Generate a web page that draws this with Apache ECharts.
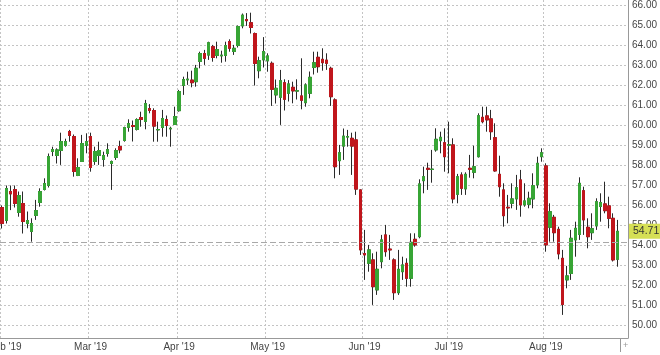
<!DOCTYPE html>
<html><head><meta charset="utf-8">
<script src="https://cdn.jsdelivr.net/npm/echarts@6/dist/echarts.min.js"></script>
<style>html,body{margin:0;padding:0;background:#fff}#c{width:660px;height:355px}</style>
</head><body><div id="c"></div>
<script>
// trading-day candles, Jan 30 2019 .. Aug 2019
const opens = [
55.9,55.25,56.7,56.8,55.65,56.1,55.1,54.7,55.5,56.15,
56.8,57.0,58.7,58.5,58.75,59.0,59.7,59.45,57.5,58.2,
59.0,59.45,58.2,58.5,58.3,58.6,58.1,58.4,58.95,59.25,
59.9,60.0,59.8,60.4,60.2,60.85,60.75,59.78,59.9,60.3,
59.83,60.05,60.74,62.0,62.28,62.27,62.19,63.2,63.6,63.52,
63.94,63.5,63.48,63.5,64.2,63.7,64.0,64.98,65.3,65.14,
64.6,62.74,63.28,63.23,63.11,61.53,61.41,62.14,61.61,61.91,
61.72,61.48,61.14,61.61,62.9,63.41,63.31,63.27,62.86,61.28,
58.24,58.97,59.42,59.36,59.28,56.78,53.6,53.11,53.28,51.78,
53.19,54.53,53.82,53.28,51.64,52.69,53.11,52.36,54.31,54.44,
57.24,57.86,57.8,58.78,59.24,59.14,59.02,59.03,56.56,57.53,
56.83,57.86,57.66,58.44,60.41,60.48,60.33,59.39,57.56,56.78,
55.91,56.11,56.33,57.28,56.03,56.06,56.33,57.03,58.44,57.98,
54.91,55.41,54.81,53.36,52.28,52.6,54.28,54.55,56.74,54.91,
54.64,54.98,55.95,56.08,55.98,55.36,53.31];
const closes = [
55.1,56.85,56.58,56.1,56.5,55.2,55.25,55.1,55.75,56.7,
57.1,58.45,58.8,58.78,59.2,59.2,59.5,57.7,57.9,59.1,
59.2,57.9,58.7,58.75,58.5,58.8,58.2,58.75,58.78,59.9,
60.1,59.95,60.3,60.3,61.1,60.75,59.97,59.8,60.35,60.0,
59.86,60.45,61.7,62.3,62.32,62.14,62.86,63.6,63.36,64.14,
63.4,63.8,63.52,64.0,63.86,63.86,64.95,65.52,65.24,64.9,
63.1,63.24,63.7,63.48,61.81,61.86,62.24,61.31,62.08,61.73,
61.74,61.26,62.03,62.41,63.14,62.94,63.14,63.11,61.44,57.94,
58.64,59.47,59.45,58.97,56.82,53.78,53.53,53.78,51.94,52.81,
54.28,53.69,53.78,51.64,52.81,53.03,52.36,54.16,54.03,57.08,
57.44,57.81,57.82,59.31,59.41,58.44,59.04,56.33,57.44,56.86,
57.56,57.81,57.94,60.49,60.19,60.28,59.69,57.73,56.94,55.49,
55.88,56.33,56.89,56.03,56.23,56.36,56.99,58.11,58.64,54.03,
55.69,54.64,53.58,51.05,52.48,54.36,54.86,57.11,55.28,54.44,
54.84,56.19,56.15,55.74,55.36,53.28,54.71];
const lows = [
54.85,55.1,55.77,55.9,55.44,54.6,54.86,54.19,55.28,55.94,
56.75,56.9,58.47,58.1,58.03,58.94,59.19,57.44,57.47,58.19,
58.61,57.69,58.03,58.03,57.94,58.44,56.78,58.28,58.61,59.19,
59.69,59.2,59.75,59.94,59.81,60.61,59.19,59.19,59.44,59.44,
58.94,60.03,60.69,61.53,62.03,61.91,61.94,62.86,63.03,63.28,
63.19,63.36,63.14,63.19,63.69,63.53,63.9,64.86,64.98,64.6,
62.0,62.36,62.9,62.69,60.98,61.1,60.03,60.75,61.2,61.11,
61.3,60.81,60.94,61.36,62.55,62.64,62.74,62.78,60.98,57.36,
57.53,58.28,58.94,57.53,56.53,53.53,52.28,52.69,51.03,51.53,
52.86,53.44,53.28,51.28,51.53,52.28,51.94,51.94,53.94,54.36,
56.61,56.78,57.14,58.69,58.61,57.69,57.61,56.11,56.11,56.53,
56.53,57.39,57.36,58.4,60.11,59.69,59.28,57.69,56.44,54.94,
55.11,55.86,55.78,55.44,55.94,55.86,55.86,56.86,58.19,53.69,
54.19,54.19,53.31,50.53,51.86,52.28,53.44,54.28,54.53,53.86,
54.28,54.78,55.19,55.61,54.86,53.2,52.94];
const highs = [
56.0,57.0,57.0,57.0,56.7,56.7,55.7,55.36,56.28,56.86,
57.36,58.6,58.94,58.86,59.64,59.34,59.78,59.55,58.36,59.53,
59.61,59.64,58.94,59.19,58.69,59.11,58.25,58.86,59.24,59.94,
60.31,60.25,60.36,60.69,61.28,61.07,60.86,60.19,60.78,60.5,
59.94,60.94,61.78,62.44,62.69,62.74,63.03,63.69,63.78,64.19,
64.03,64.19,63.74,64.19,64.31,64.03,65.0,65.6,65.62,65.64,
64.65,63.44,64.42,63.61,63.2,62.3,62.78,62.31,62.27,62.19,
62.31,63.36,62.11,62.7,63.69,63.69,63.86,63.61,62.94,61.36,
59.03,59.85,59.78,59.64,59.69,56.8,54.78,54.03,53.61,53.69,
54.53,55.03,54.53,53.36,53.78,53.44,53.36,54.61,54.61,57.31,
57.94,58.14,58.78,59.86,59.69,59.86,60.19,59.36,57.58,57.66,
57.66,58.53,58.99,60.61,60.94,60.94,60.78,60.11,58.49,57.11,
56.53,57.11,57.53,57.78,57.11,56.69,57.61,58.44,58.86,58.11,
56.11,55.53,54.94,53.78,52.98,54.78,55.19,57.41,56.94,55.36,
55.61,56.36,56.61,57.19,56.44,55.61,55.28];
const monthLabels = ["Feb '19","Mar '19","Apr '19","May '19","Jun '19","Jul '19","Aug '19"];
const monthStartIdx = [0,21,42,63,86,106,129];
const emptySlots = 2;
const refLevel = 54.16;

const n = opens.length + emptySlots;
const categories = Array.from({length:n}, (_, i) => String(i));
const candleData = opens.map((o, i) => [o, closes[i], lows[i], highs[i]]);
const bodyData = opens.map((o, i) => [o, closes[i], Math.min(o, closes[i]), Math.max(o, closes[i])]);
const lastPrice = closes[closes.length - 1];
const isMonthStart = (idx) => monthStartIdx.indexOf(idx) >= 0;

const UP = '#37a535', DOWN = '#c0161c';
const FONT = 'Liberation Sans, Arial, sans-serif';

const chart = echarts.init(document.getElementById('c'), null, {renderer: 'canvas'});
chart.setOption({
  animation: false,
  backgroundColor: '#fff',
  grid: {left: 0, right: 32, top: 0, bottom: 17, containLabel: false, outerBoundsMode: 'none'},
  xAxis: {
    type: 'category', data: categories, boundaryGap: true,
    axisLine: {show: true, lineStyle: {color: '#999'}},
    axisTick: {show: false},
    axisLabel: {
      interval: (idx) => isMonthStart(idx),
      formatter: (v) => {
        const k = monthStartIdx.indexOf(Number(v));
        if (k < 0) return '';
        return k === 0 ? '{first|' + monthLabels[k] + '}' : monthLabels[k];
      },
      rich: {first: {padding: [0, 0, 0, 6], color: '#444', fontSize: 10, fontFamily: FONT}},
      color: '#444', fontSize: 10, fontFamily: FONT, margin: 4, hideOverlap: false
    },
    splitLine: {show: true, interval: (idx) => isMonthStart(idx),
      lineStyle: {color: '#c4c4c4', type: [2, 2]}}
  },
  yAxis: {
    type: 'value', position: 'right', scale: true,
    min: 49.375, max: 66.275, minInterval: 1, maxInterval: 1, splitNumber: 16,
    axisLine: {show: true, lineStyle: {color: '#999'}},
    axisTick: {show: false},
    axisLabel: {formatter: (v) => v.toFixed(2), color: '#444', fontSize: 10, fontFamily: FONT,
      margin: 4, showMinLabel: false, showMaxLabel: false},
    splitLine: {show: true, showMinLine: false, showMaxLine: false,
      lineStyle: {color: '#c4c4c4', type: [2, 2]}}
  },
  series: [
    {
      type: 'candlestick', name: 'wick', data: candleData, barWidth: 3,
      itemStyle: {color: UP, color0: DOWN, borderColor: '#2a2a2a', borderColor0: '#2a2a2a',
        borderColorDoji: '#2a2a2a', borderWidth: 1},
      markLine: {
        silent: true, symbol: 'none', animation: false,
        data: [{yAxis: refLevel}],
        lineStyle: {color: '#a8a8a8', type: [6, 3], width: 1},
        label: {show: false}
      }
    },
    {
      type: 'candlestick', name: 'body', data: bodyData, barWidth: 3, z: 3,
      itemStyle: {color: UP, color0: DOWN, borderColor: UP, borderColor0: DOWN,
        borderColorDoji: '#2a2a2a', borderWidth: 1},
      markLine: {
        silent: true, symbol: 'none', animation: false, z: 10,
        data: [{yAxis: lastPrice}],
        lineStyle: {color: 'rgba(0,0,0,0)', width: 1},
        label: {show: true, position: 'end', distance: 1,
          formatter: () => lastPrice.toFixed(2),
          backgroundColor: '#d5df55', color: '#333', fontSize: 10.5, fontFamily: FONT,
          padding: [2, 4, 2, 4]}
      }
    }
  ],
  graphic: [
    {type: 'line', shape: {x1: 620.5, y1: 338, x2: 620.5, y2: 352}, style: {stroke: '#999', lineWidth: 1}},
    {type: 'text', left: 623, top: 341, style: {text: '+', fill: '#999', font: '9px ' + FONT}}
  ]
});
</script></body></html>
